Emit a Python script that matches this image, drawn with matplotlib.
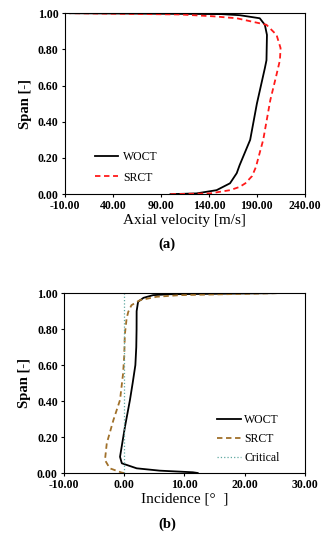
import numpy as np
import matplotlib
matplotlib.use('Agg')
import matplotlib.pyplot as plt
from matplotlib.ticker import FormatStrFormatter

plt.rcParams['font.family'] = ['Liberation Serif', 'DejaVu Serif']

# (a) 轴向速度
span_a_woct = [0.0, 0.004, 0.022, 0.06, 0.116, 0.16, 0.30, 0.50, 0.696, 0.74, 0.88,
               0.936, 0.972, 0.989, 0.995, 1.0]
vel_woct = [100, 127, 148, 162, 169, 172, 183, 190, 198.3, 200, 200.5,
            198.3, 193, 172, 153, -5]
span_a_srct = [0.0, 0.004, 0.022, 0.04, 0.06, 0.10, 0.15, 0.20, 0.30, 0.52, 0.65,
               0.74, 0.807, 0.88, 0.936, 0.972, 0.983, 0.993, 1.0]
vel_srct = [100, 141, 162, 172, 178, 185, 189, 191.5, 196.6, 204, 210,
            214, 214.7, 210.5, 200, 169, 144, 110, -5]

# (b) 攻角
span_b_woct = [0.0, 0.004, 0.013, 0.026, 0.054, 0.09, 0.257, 0.406, 0.50, 0.60, 0.70,
               0.80, 0.90, 0.952, 0.974, 0.989, 0.994, 1.0]
inc_woct = [12.2, 11.4, 5.9, 2.07, -0.4, -0.7, 0.12, 0.95, 1.4, 1.85, 2.0,
            2.05, 2.06, 2.3, 3.2, 4.8, 7.6, 25.0]
span_b_srct = [0.0, 0.002, 0.026, 0.072, 0.165, 0.294, 0.406, 0.55, 0.65, 0.77, 0.86,
               0.896, 0.933, 0.961, 0.98, 0.989, 1.0]
inc_srct = [0.0, -0.4, -2.4, -3.2, -2.9, -1.8, -0.7, -0.2, 0.0, 0.1, 0.4,
            0.67, 1.2, 2.6, 5.4, 9.3, 25.5]
critical_x = [0.0, 0.0]
critical_span = [0.0, 1.0]

yticks = [0.0, 0.2, 0.4, 0.6, 0.8, 1.0]

fig = plt.figure(figsize=(3.25, 5.5), dpi=100)
ax1 = fig.add_axes([0.2, 0.647, 0.738, 0.329])
ax2 = fig.add_axes([0.197, 0.14, 0.741, 0.327])

ax1.plot(vel_woct, span_a_woct, color='black', lw=1.3, label='WOCT')
ax1.plot(vel_srct, span_a_srct, color='#ff1a1a', lw=1.3, ls=(0, (3, 2)), label='SRCT')
ax1.set_xlim(-10, 240)
ax1.set_xticks(np.arange(-10, 241, 50))
ax1.set_xlabel('Axial velocity [m/s]', fontsize=11, labelpad=1)
ax1.legend(loc='lower left', bbox_to_anchor=(0.08, 0.0), frameon=False, fontsize=8.5,
           handlelength=2.0, handletextpad=0.4, labelspacing=0.75)

ax2.plot(inc_woct, span_b_woct, color='black', lw=1.3, label='WOCT')
ax2.plot(inc_srct, span_b_srct, color='#a0702a', lw=1.3, ls=(0, (3, 2)), label='SRCT')
ax2.plot(critical_x, critical_span, color='#5fa8a0', lw=0.9, ls=':', label='Critical')
ax2.set_xlim(-10, 30)
ax2.set_xticks(np.arange(-10, 31, 10))
ax2.set_xlabel('Incidence [°  ]', fontsize=11, labelpad=1)
ax2.legend(loc='lower right', bbox_to_anchor=(0.94, -0.01), frameon=False, fontsize=8.5,
           handlelength=2.0, handletextpad=0.3, labelspacing=0.6)

for ax in (ax1, ax2):
    ax.set_ylim(0, 1)
    ax.set_yticks(yticks)
    ax.xaxis.set_major_formatter(FormatStrFormatter('%.2f'))
    ax.yaxis.set_major_formatter(FormatStrFormatter('%.2f'))
    ax.tick_params(labelsize=8.5, length=2.5, width=0.8, pad=2)
    for lb in ax.get_xticklabels() + ax.get_yticklabels():
        lb.set_fontweight('bold')
    ax.set_ylabel('Span [-]', fontsize=10.5, fontweight='bold', labelpad=4)
    for s in ax.spines.values():
        s.set_linewidth(0.8)

fig.text(0.515, 0.555, '(a)', ha='center', va='center', fontsize=10.5, fontweight='bold')
fig.text(0.515, 0.047, '(b)', ha='center', va='center', fontsize=10.5, fontweight='bold')

fig.savefig('out.png', dpi=100)
